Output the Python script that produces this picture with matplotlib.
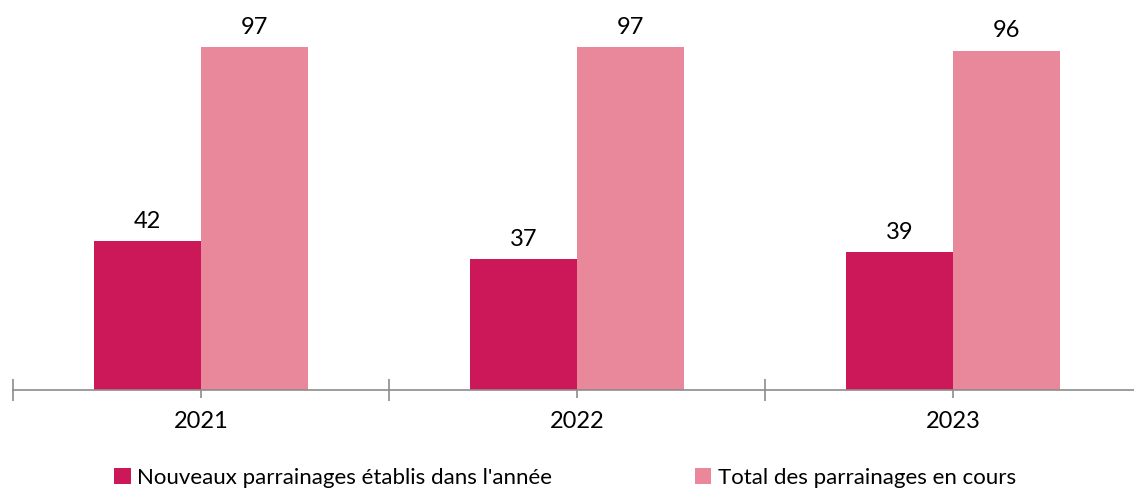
import matplotlib
matplotlib.use("Agg")
import matplotlib.pyplot as plt
import numpy as np

plt.rcParams['font.family'] = ['Lato', 'DejaVu Sans']

years = ["2021", "2022", "2023"]
nouveaux = [42, 37, 39]
total = [97, 97, 96]
series_names = ["Nouveaux parrainages établis dans l'année", "Total des parrainages en cours"]
colors = ["#CC1759", "#EA889B"]

W, H = 1134, 492
fig = plt.figure(figsize=(W / 100, H / 100), dpi=100)
left_px, right_px = 13, 13 + 3 * 376
bottom_px = 390
px_per_unit = 343 / 97
top_px = bottom_px - 100 * px_per_unit
ax = fig.add_axes([left_px / W, 1 - bottom_px / H, (right_px - left_px) / W, (bottom_px - top_px) / H])

x = np.arange(len(years)) + 0.5
bw = 107 / 376
b1 = ax.bar(x - bw / 2, nouveaux, bw, color=colors[0], label=series_names[0])
b2 = ax.bar(x + bw / 2, total, bw, color=colors[1], label=series_names[1])

for bars, vals in ((b1, nouveaux), (b2, total)):
    for rect, v in zip(bars, vals):
        ax.annotate(str(v), (rect.get_x() + rect.get_width() / 2, v),
                    xytext=(0, 9.5), textcoords="offset points",
                    ha="center", va="baseline", fontsize=17, color="#000000")

ax.set_xlim(0, 3)
ax.set_ylim(0, 100)
for s in ("top", "right", "left"):
    ax.spines[s].set_visible(False)
ax.spines["bottom"].set_color("#8C8C8C")
ax.spines["bottom"].set_linewidth(1.2)
ax.set_yticks([])

ax.set_xticks(x, years)
ax.set_xticks(np.arange(0, 4), minor=True)
ax.tick_params(axis="x", which="major", direction="out", length=6, width=1.2,
               color="#8C8C8C", labelsize=17, pad=9, labelcolor="#000000")
ax.tick_params(axis="x", which="minor", direction="inout", length=16.5, width=1.2,
               color="#8C8C8C")

leg = fig.legend(handles=[b1, b2], loc="center left", bbox_to_anchor=(94 / W, 1 - 478 / H),
                 ncol=2, frameon=False, fontsize=16, handlelength=0.75, handleheight=0.75,
                 handletextpad=0.3, columnspacing=6.4)

fig.savefig("out.png", dpi=100)
